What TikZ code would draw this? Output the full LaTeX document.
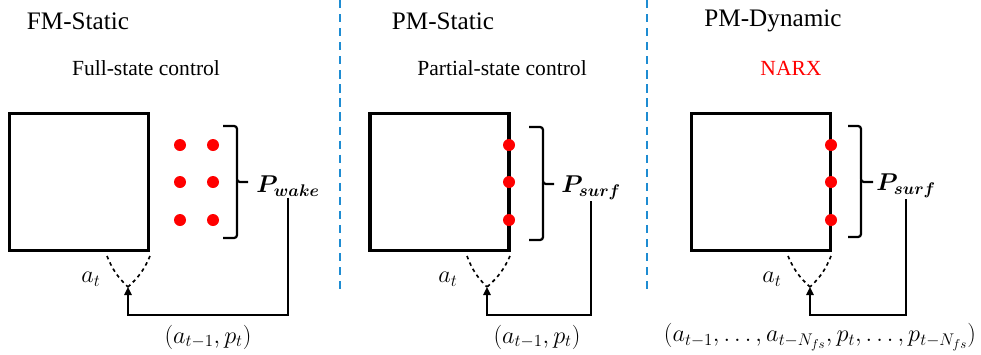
\documentclass[tikz,border=0pt]{standalone}
\usepackage{fontspec}
\setmainfont{Liberation Serif}
\usepackage{amsmath,bm}
\usetikzlibrary{arrows.meta,calc}
\definecolor{sepblue}{RGB}{30,140,210}
\tikzset{
  plant/.style={draw=black,line width=2.8pt,minimum width=4.17cm,minimum height=4.11cm,inner sep=0pt}, % flow domain
  probe/.style={circle,fill=red,inner sep=0pt,minimum size=0.36cm},                                  % sensor
  brk/.style={line width=1.9pt,rounded corners=2.5pt},
  act/.style={dashed,line width=1.4pt},
  fb/.style={line width=1.6pt,-{Triangle[length=2.4mm,width=2.2mm]}},
  sep/.style={sepblue,line width=1.6pt,dash pattern=on 7pt off 5pt},
  ttl/.style={font=\fontsize{21.5}{24}\selectfont},
  ctrl/.style={font=\fontsize{18.4}{21}\selectfont},
  lbl/.style={font=\fontsize{22}{25}\selectfont,inner sep=1pt},
}

\begin{document}
\begin{tikzpicture}[x=0.03cm,y=-0.03cm]
  \useasboundingbox (0,0) rectangle (981,354);
  % separators
  \draw[sep] (340,0) -- (340,290);
  \draw[sep] (647,0) -- (647,290);

  % left: full-state
  \node[ttl] (t1) at (78,21) {FM-Static};
  \node[ctrl] (c1) at (146,68) {Full-state control};
  \node[plant] (box1) at (79,182) {};
  \foreach \i/\yy in {1/145,2/182,3/220} {
    \node[probe] (wa\i) at (180,\yy) {};
    \node[probe] (wb\i) at (213,\yy) {};
  }
  \draw[brk] (223,126) -- (237,126) -- (237,182) -- (248,182);
  \draw[brk] (237,180) -- (237,238) -- (223,238);
  \node[lbl] (pw) at (288,186) {$\bm{P}_{\bm{wake}}$};
  \coordinate (v1) at (128,287);
  \coordinate (l1) at (107,256);
  \coordinate (r1) at (150,256);
  \coordinate (k1) at (128,315);
  \draw[act] (l1) to[bend right=12] (v1);
  \draw[act] (r1) to[bend left=12] (v1);
  \draw[fb] (pw.south) |- (k1) -- (v1);
  \node[lbl] (a1) at (91,279) {$a_t$};
  \node[lbl] (u1) at (208,337) {$(a_{t-1},p_t)$};

  % middle: partial-state
  \node[ttl] (t2) at (443,21) {PM-Static};
  \node[ctrl] (c2) at (502,68) {Partial-state control};
  \node[plant] (box2) at (439.5,182) {};
  \foreach \i/\yy in {1/145,2/182,3/220}
    \node[probe] (s\i) at (509,\yy) {};
  \draw[brk] (529,127) -- (543,127) -- (543,184) -- (554,184);
  \draw[brk] (543,182) -- (543,240) -- (529,240);
  \node[lbl] (ps2) at (591,188) {$\bm{P}_{\bm{surf}}$};
  \coordinate (v2) at (487,287);
  \coordinate (l2) at (467,256);
  \coordinate (r2) at (510,256);
  \coordinate (k2) at (487,315);
  \draw[act] (l2) to[bend right=12] (v2);
  \draw[act] (r2) to[bend left=12] (v2);
  \draw[fb] (ps2.south) |- (k2) -- (v2);
  \node[lbl] (a2) at (448,279) {$a_t$};
  \node[lbl] (u2) at (537,337) {$(a_{t-1},p_t)$};

  % right: NARX
  \node[ttl] (t3) at (773,21) {PM-Dynamic};
  \node[ctrl,text=red] (c3) at (791,68) {NARX};
  \node[plant] (box3) at (761,182) {};
  \foreach \i/\yy in {1/145,2/182,3/220}
    \node[probe] (q\i) at (831,\yy) {};
  \draw[brk] (848,126) -- (861,126) -- (861,182) -- (873,182);
  \draw[brk] (861,180) -- (861,237) -- (848,237);
  \node[lbl] (ps3) at (906,186) {$\bm{P}_{\bm{surf}}$};
  \coordinate (v3) at (810,287);
  \coordinate (l3) at (788,256);
  \coordinate (r3) at (831,256);
  \coordinate (k3) at (810,315);
  \draw[act] (l3) to[bend right=12] (v3);
  \draw[act] (r3) to[bend left=12] (v3);
  \draw[fb] (ps3.south) |- (k3) -- (v3);
  \node[lbl] (a3) at (772,279) {$a_t$};
  \node[lbl] (u3) at (820,337) {$(a_{t-1},\ldots,a_{t-N_{fs}},p_t,\ldots,p_{t-N_{fs}})$};
\end{tikzpicture}
\end{document}
